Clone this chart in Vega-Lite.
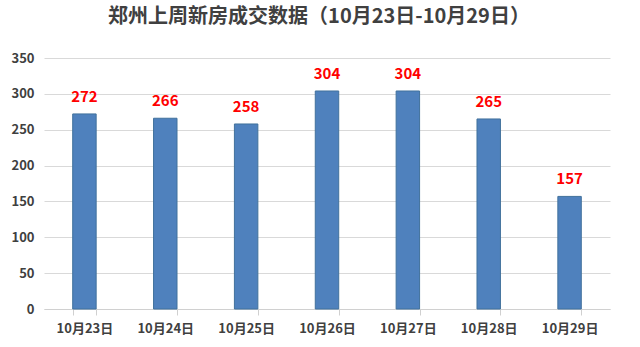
{
  "$schema": "https://vega.github.io/schema/vega-lite/v6.json",
  "autosize": {"type": "none"},
  "width": 566,
  "height": 251,
  "padding": {"left": 44, "top": 58, "right": 30, "bottom": 38},
  "background": "white",
  "title": {
    "text": "郑州上周新房成交数据（10月23日-10月29日）",
    "font": "Noto Sans CJK SC",
    "fontSize": 20,
    "fontWeight": "bold",
    "color": "#404040",
    "anchor": "middle",
    "dx": -8,
    "offset": 25
  },
  "config": {
    "view": {"stroke": null},
    "axis": {"labelFont": "Noto Sans CJK SC", "labelFontWeight": "bold", "labelColor": "#404040", "labelFontSize": 13}
  },
  "data": {
    "values": [
      {"date": "10月23日", "value": 272},
      {"date": "10月24日", "value": 266},
      {"date": "10月25日", "value": 258},
      {"date": "10月26日", "value": 304},
      {"date": "10月27日", "value": 304},
      {"date": "10月28日", "value": 265},
      {"date": "10月29日", "value": 157}
    ]
  },
  "encoding": {
    "x": {
      "field": "date", "type": "nominal", "sort": null,
      "scale": {"paddingInner": 0.71, "paddingOuter": 0.355},
      "axis": {"title": null, "labelAngle": 0, "domainColor": "#D0D0D0", "tickColor": "#D0D0D0", "tickBand": "extent", "tickSize": 6, "labelPadding": 7}
    },
    "y": {
      "field": "value", "type": "quantitative",
      "scale": {"domain": [0, 350]},
      "axis": {"title": null, "values": [0, 50, 100, 150, 200, 250, 300, 350], "domain": false, "ticks": false, "gridColor": "#D9D9D9", "labelPadding": 10}
    }
  },
  "layer": [
    {"mark": {"type": "bar", "color": "#4F81BD", "stroke": "#41719C", "strokeWidth": 1}},
    {"mark": {"type": "text", "dy": -17, "color": "#FF0000", "fontSize": 15, "fontWeight": "bold", "font": "Noto Sans CJK SC"},
     "encoding": {"text": {"field": "value", "type": "quantitative"}}}
  ]
}
